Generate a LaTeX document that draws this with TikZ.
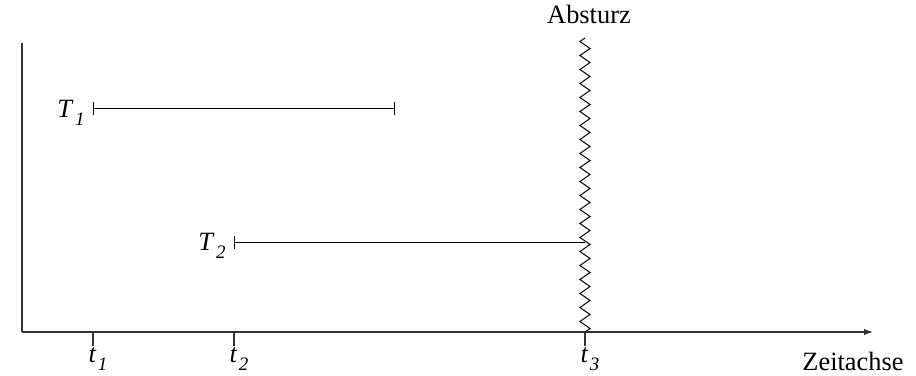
\documentclass[tikz,border=0pt]{standalone}
\usepackage{fontspec}
\setmainfont{Liberation Serif}
\usetikzlibrary{arrows.meta}
\newcommand\sublab[2]{\textit{#1}\kern0.05em\raisebox{-0.32em}{\fontsize{9.5}{10}\selectfont\itshape #2}}
\begin{document}
\begin{tikzpicture}[x=0.5pt,y=-0.5pt,
  lbl/.style={font=\fontsize{13.2}{15}\selectfont,inner sep=0pt,anchor=base},
  axisline/.style={line width=0.55pt,draw=black!80},
  bar/.style={line width=0.5pt,{Bar[width=6.5pt]}-{Bar[width=6.5pt]}},
  barL/.style={line width=0.5pt,{Bar[width=6.5pt]}-},
  tickline/.style={line width=0.55pt,draw=black!80}]
\useasboundingbox (0,0) rectangle (916,375);
% axes
\coordinate (O) at (22,332);
\coordinate (ytop) at (22,43);
\coordinate (xend) at (873,332);
\draw[axisline] (ytop) -- (O);
\draw[axisline,-{Latex[length=4.5pt,width=3.2pt]}] (O) -- (xend);
% ticks
\foreach \n/\x in {1/93,2/234,3/585}{
  \coordinate (tk\n) at (\x,332);
  \coordinate (tb\n) at (\x,346);
  \draw[tickline] (tk\n) -- (tb\n);
}
\node[lbl] (l1) at (98,362) {\sublab{t}{1}};
\node[lbl] (l2) at (239,362) {\sublab{t}{2}};
\node[lbl] (l3) at (590,362) {\sublab{t}{3}};
\node[lbl] (zeit) at (853,370) {Zeitachse};
\node[lbl] (abs) at (589,24) {Absturz};
% zigzag
\draw[line width=0.5pt] (585,38)
  \foreach \k in {0,...,41}{
    -- ({585 + 5*(2*mod(\k,2)-1)}, {41.5+7*\k})
  } -- (585,332);
\coordinate (crash) at (585,242);
% intervals
\coordinate (a1) at (93,108);
\coordinate (b1) at (395,108);
\draw[bar] (a1) -- (b1);
\node[lbl] (T1) at (71,117) {\sublab{T}{1}};
\coordinate (a2) at (234,242);
\draw[barL] (a2) -- (crash);
\node[lbl] (T2) at (212,250) {\sublab{T}{2}};
\end{tikzpicture}
\end{document}
